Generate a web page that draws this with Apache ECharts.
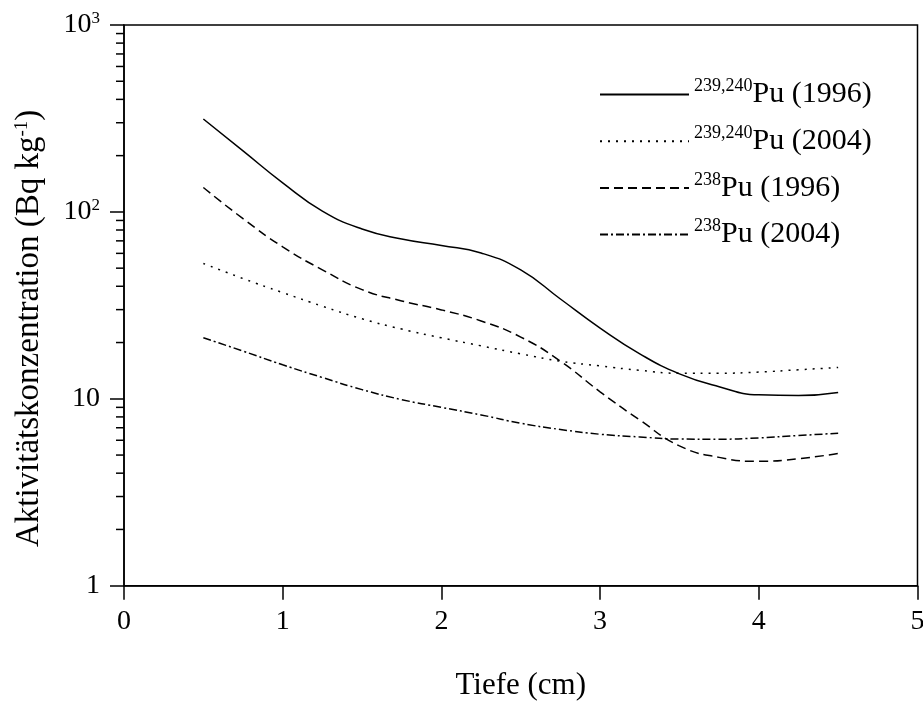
<!DOCTYPE html>
<html>
<head>
<meta charset="utf-8">
<script src="https://cdn.jsdelivr.net/npm/echarts@6/dist/echarts.min.js"></script>
<style>
  html, body { margin: 0; padding: 0; background: #fff; }
  #chart { width: 923px; height: 702px; }
</style>
</head>
<body>
<div id="chart"></div>
<script>
// Depth (cm)
var depth = [0.5, 0.75, 1, 1.25, 1.5, 1.75, 2, 2.25, 2.5, 2.75, 3, 3.25, 3.5, 3.75, 4, 4.25, 4.5];
// Activity concentration (Bq/kg)
var pu239_1996 = [314, 212, 143, 101, 81, 71.6, 66.1, 60.3, 48.9, 34.2, 23.9, 17.4, 13.6, 11.6, 10.5, 10.4, 10.8];
var pu239_2004 = [53, 44, 37, 31.3, 26.8, 23.6, 21.2, 19.2, 17.4, 15.9, 15.0, 14.2, 13.7, 13.7, 13.9, 14.3, 14.7];
var pu238_1996 = [135, 92, 65, 49, 38.4, 33.4, 29.9, 26.1, 21.4, 15.9, 10.9, 7.7, 5.6, 4.86, 4.63, 4.78, 5.1];
var pu238_2004 = [21.2, 18.0, 15.2, 13.0, 11.2, 9.9, 9.0, 8.2, 7.4, 6.85, 6.46, 6.25, 6.09, 6.08, 6.18, 6.36, 6.54];

var seriesNames = ['239,240Pu (1996)', '239,240Pu (2004)', '238Pu (1996)', '238Pu (2004)'];
var legendSup = ['239,240', '239,240', '238', '238'];
var legendMain = ['Pu (1996)', 'Pu (2004)', 'Pu (1996)', 'Pu (2004)'];
var xTicks = [0, 1, 2, 3, 4, 5];
var yMinorTicks = [2, 3, 4, 5, 6, 7, 8, 9, 20, 30, 40, 50, 60, 70, 80, 90, 200, 300, 400, 500, 600, 700, 800, 900];

function pairs(ys) { return depth.map(function (x, i) { return [x, ys[i]]; }); }

var FONT = '"Liberation Serif", "DejaVu Serif", serif';
var chart = echarts.init(document.getElementById('chart'), null, { renderer: 'canvas' });

function lineSeries(name, ys, type) {
  return {
    name: name, type: 'line', data: pairs(ys), smooth: 0.5,
    symbol: 'none', showSymbol: false,
    lineStyle: { color: '#000', width: 1.5, type: type },
    itemStyle: { color: '#000' },
    emphasis: { disabled: true }
  };
}

var option = {
  animation: false,
  backgroundColor: '#fff',
  grid: { left: 124, right: 5.5, top: 25, bottom: 116.3, show: true, borderColor: '#000', borderWidth: 1.5,
    backgroundColor: 'transparent', outerBoundsMode: 'none', containLabel: false },
  legend: {
    data: seriesNames,
    orient: 'vertical', left: 599, top: 77.5, padding: 0,
    itemWidth: 89, itemHeight: 14, itemGap: 14.7,
    align: 'left',
    itemStyle: { color: 'transparent', borderWidth: 0, opacity: 0 },
    formatter: function (name) {
      var i = seriesNames.indexOf(name);
      return '{sup|' + legendSup[i] + '}{b|' + legendMain[i] + '}';
    },
    textStyle: {
      fontFamily: FONT, color: '#000', fontSize: 30,
      rich: {
        sup: { fontFamily: FONT, fontSize: 18, lineHeight: 18, verticalAlign: 'top', color: '#000' },
        b: { fontFamily: FONT, fontSize: 30, lineHeight: 34, color: '#000' }
      }
    }
  },
  xAxis: {
    type: 'value', min: 0, max: 5, interval: 1,
    name: 'Tiefe (cm)', nameLocation: 'middle', nameGap: 85,
    nameTextStyle: { fontFamily: FONT, fontSize: 31, color: '#000' },
    axisLine: { show: true, lineStyle: { color: '#000', width: 1.5 } },
    axisTick: { show: true, inside: false, length: 14, lineStyle: { color: '#000', width: 1.5 } },
    axisLabel: { fontFamily: FONT, fontSize: 28, color: '#000', margin: 22, hideOverlap: false,
      customValues: xTicks },
    splitLine: { show: false }
  },
  yAxis: {
    type: 'log', logBase: 10, min: 1, max: 1000,
    name: 'Aktivitätskonzentration (Bq kg{sup|-1})', nameLocation: 'middle', nameGap: 78,
    nameTextStyle: { fontFamily: FONT, fontSize: 33, color: '#000', padding: [0, 46, 0, 0],
      rich: { sup: { fontFamily: FONT, fontSize: 19, lineHeight: 19, verticalAlign: 'top', color: '#000' } } },
    axisLine: { show: true, lineStyle: { color: '#000', width: 1.5 } },
    axisTick: { show: true, inside: false, length: 14, lineStyle: { color: '#000', width: 1.5 } },
    axisLabel: {
      fontFamily: FONT, fontSize: 28, color: '#000', margin: 24,
      formatter: function (v) {
        var e = Math.round(Math.log(v) / Math.LN10);
        if (e === 0) return '{b|1}';
        if (e === 1) return '{b|10}';
        return '{b|10}{sup|' + e + '}';
      },
      rich: {
        b: { fontFamily: FONT, fontSize: 28, lineHeight: 30, color: '#000' },
        sup: { fontFamily: FONT, fontSize: 17, lineHeight: 17, verticalAlign: 'top', color: '#000' }
      }
    },
    splitLine: { show: false }
  },
  series: [
    lineSeries(seriesNames[0], pu239_1996, 'solid'),
    lineSeries(seriesNames[1], pu239_2004, [2, 6]),
    lineSeries(seriesNames[2], pu238_1996, [9, 5]),
    lineSeries(seriesNames[3], pu238_2004, [8, 3, 2, 3]),
    {
      type: 'custom', silent: true, clip: false, z: 5,
      data: yMinorTicks.map(function (v) { return [0, v]; }),
      renderItem: function (params, api) {
        var p = api.coord([api.value(0), api.value(1)]);
        return { type: 'line', shape: { x1: p[0] - 8, y1: p[1], x2: p[0], y2: p[1] },
          style: { stroke: '#000', lineWidth: 1.5 } };
      }
    }
  ]
};
chart.setOption(option);
</script>
</body>
</html>
